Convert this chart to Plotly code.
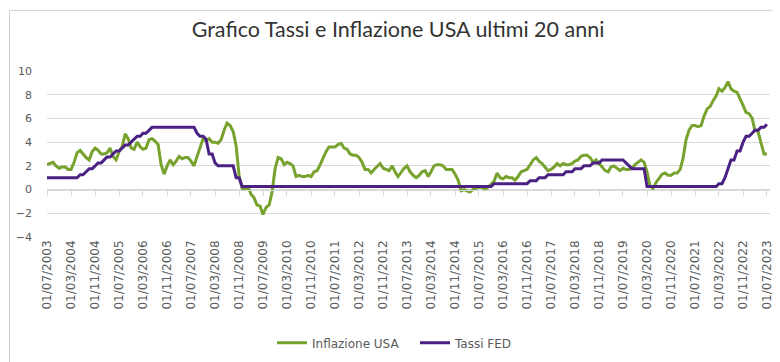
import pandas as pd
import plotly.graph_objects as go

start_month = "2003-07-01"
end_month = "2023-07-01"

inflazione_usa = [
    # 2003 Jul-Dec
    2.1, 2.2, 2.3, 2.0, 1.8, 1.9,
    # 2004
    1.9, 1.7, 1.7, 2.3, 3.1, 3.3, 3.0, 2.7, 2.5, 3.2, 3.5, 3.3,
    # 2005
    3.0, 3.0, 3.1, 3.5, 2.8, 2.5, 3.2, 3.6, 4.7, 4.3, 3.5, 3.4,
    # 2006
    4.0, 3.6, 3.4, 3.5, 4.2, 4.3, 4.1, 3.8, 2.1, 1.3, 2.0, 2.5,
    # 2007
    2.1, 2.4, 2.8, 2.6, 2.7, 2.7, 2.4, 2.0, 2.8, 3.5, 4.3, 4.1,
    # 2008
    4.3, 4.0, 4.0, 3.9, 4.2, 5.0, 5.6, 5.4, 4.9, 3.7, 1.1, 0.1,
    # 2009
    0.0, 0.2, -0.4, -0.7, -1.3, -1.4, -2.1, -1.5, -1.3, -0.2, 1.8, 2.7,
    # 2010
    2.6, 2.1, 2.3, 2.2, 2.0, 1.1, 1.2, 1.1, 1.1, 1.2, 1.1, 1.5,
    # 2011
    1.6, 2.1, 2.7, 3.2, 3.6, 3.6, 3.6, 3.8, 3.9, 3.5, 3.4, 3.0,
    # 2012
    2.9, 2.9, 2.7, 2.3, 1.7, 1.7, 1.4, 1.7, 2.0, 2.2, 1.8, 1.7,
    # 2013
    1.6, 2.0, 1.5, 1.1, 1.4, 1.8, 2.0, 1.5, 1.2, 1.0, 1.2, 1.5,
    # 2014
    1.6, 1.1, 1.5, 2.0, 2.1, 2.1, 2.0, 1.7, 1.7, 1.7, 1.3, 0.8,
    # 2015
    -0.1, 0.0, -0.1, -0.2, 0.0, 0.1, 0.2, 0.2, 0.0, 0.2, 0.5, 0.7,
    # 2016
    1.4, 1.0, 0.9, 1.1, 1.0, 1.0, 0.8, 1.1, 1.5, 1.6, 1.7, 2.1,
    # 2017
    2.5, 2.7, 2.4, 2.2, 1.9, 1.6, 1.7, 1.9, 2.2, 2.0, 2.2, 2.1,
    # 2018
    2.1, 2.2, 2.4, 2.5, 2.8, 2.9, 2.9, 2.7, 2.3, 2.5, 2.2, 1.9,
    # 2019
    1.6, 1.5, 1.9, 2.0, 1.8, 1.6, 1.8, 1.7, 1.7, 1.8, 2.1, 2.3,
    # 2020
    2.5, 2.3, 1.5, 0.3, 0.1, 0.6, 1.0, 1.3, 1.4, 1.2, 1.2, 1.4,
    # 2021
    1.4, 1.7, 2.6, 4.2, 5.0, 5.4, 5.4, 5.3, 5.4, 6.2, 6.8, 7.0,
    # 2022
    7.5, 7.9, 8.5, 8.3, 8.6, 9.1, 8.5, 8.3, 8.2, 7.7, 7.1, 6.5,
    # 2023 Jan-Jul
    6.4, 6.0, 5.0, 4.9, 4.0, 3.0, 3.0,
]

tassi_fed = [
    # 2003 Jul-Dec
    1, 1, 1, 1, 1, 1,
    # 2004
    1, 1, 1, 1, 1, 1.25, 1.25, 1.5, 1.75, 1.75, 2, 2.25,
    # 2005
    2.25, 2.5, 2.75, 2.75, 3, 3.25, 3.25, 3.5, 3.75, 3.75, 4, 4.25,
    # 2006
    4.5, 4.5, 4.75, 4.75, 5, 5.25, 5.25, 5.25, 5.25, 5.25, 5.25, 5.25,
    # 2007
    5.25, 5.25, 5.25, 5.25, 5.25, 5.25, 5.25, 5.25, 4.75, 4.5, 4.5, 4.25,
    # 2008
    3, 3, 2.25, 2, 2, 2, 2, 2, 2, 1, 1, 0.25,
    # 2009
    0.25, 0.25, 0.25, 0.25, 0.25, 0.25, 0.25, 0.25, 0.25, 0.25, 0.25, 0.25,
    # 2010
    0.25, 0.25, 0.25, 0.25, 0.25, 0.25, 0.25, 0.25, 0.25, 0.25, 0.25, 0.25,
    # 2011
    0.25, 0.25, 0.25, 0.25, 0.25, 0.25, 0.25, 0.25, 0.25, 0.25, 0.25, 0.25,
    # 2012
    0.25, 0.25, 0.25, 0.25, 0.25, 0.25, 0.25, 0.25, 0.25, 0.25, 0.25, 0.25,
    # 2013
    0.25, 0.25, 0.25, 0.25, 0.25, 0.25, 0.25, 0.25, 0.25, 0.25, 0.25, 0.25,
    # 2014
    0.25, 0.25, 0.25, 0.25, 0.25, 0.25, 0.25, 0.25, 0.25, 0.25, 0.25, 0.25,
    # 2015
    0.25, 0.25, 0.25, 0.25, 0.25, 0.25, 0.25, 0.25, 0.25, 0.25, 0.25, 0.5,
    # 2016
    0.5, 0.5, 0.5, 0.5, 0.5, 0.5, 0.5, 0.5, 0.5, 0.5, 0.5, 0.75,
    # 2017
    0.75, 0.75, 1, 1, 1, 1.25, 1.25, 1.25, 1.25, 1.25, 1.25, 1.5,
    # 2018
    1.5, 1.5, 1.75, 1.75, 1.75, 2, 2, 2, 2.25, 2.25, 2.25, 2.5,
    # 2019
    2.5, 2.5, 2.5, 2.5, 2.5, 2.5, 2.5, 2.25, 2, 1.75, 1.75, 1.75,
    # 2020
    1.75, 1.75, 0.25, 0.25, 0.25, 0.25, 0.25, 0.25, 0.25, 0.25, 0.25, 0.25,
    # 2021
    0.25, 0.25, 0.25, 0.25, 0.25, 0.25, 0.25, 0.25, 0.25, 0.25, 0.25, 0.25,
    # 2022
    0.25, 0.25, 0.5, 0.5, 1, 1.75, 2.5, 2.5, 3.25, 3.25, 4, 4.5,
    # 2023 Jan-Jul
    4.5, 4.75, 5, 5, 5.25, 5.25, 5.5,
]

y_ticks = [-4, -2, 0, 2, 4, 6, 8, 10]
tick_dates = [d.strftime("%Y-%m-%d") for d in pd.date_range(start_month, end_month, freq="8MS")]
tick_labels = [pd.Timestamp(d).strftime("%d/%m/%Y") for d in tick_dates]

dates = [d.strftime("%Y-%m-%d") for d in pd.date_range(start_month, end_month, freq="MS")]

W, H = 780, 362
ml, mr, mt, mb = 39, 18, 62.5, 132.5
plot_w = W - ml - mr
plot_h = H - mt - mb

GREEN = "#77A22D"
PURPLE = "#4B2183"
GRID = "#D9D9D9"
TXT = "#595959"


def px_x(px):
    return (px - ml) / plot_w


def px_y(py):
    return (H - mb - py) / plot_h


fig = go.Figure()
fig.add_trace(go.Scatter(x=dates, y=inflazione_usa, mode="lines", name="Inflazione USA",
                         line=dict(color=GREEN, width=3), legend="legend"))
fig.add_trace(go.Scatter(x=dates, y=tassi_fed, mode="lines", name="Tassi FED",
                         line=dict(color=PURPLE, width=3), legend="legend2"))
# invisible helper trace so the zero-line tick axis is drawn
fig.add_trace(go.Scatter(x=[dates[0]], y=[0], xaxis="x2", mode="markers",
                         marker=dict(opacity=0), showlegend=False, hoverinfo="skip"))

x_range = ["2003-07-01", "2023-08-01"]
zero_pos = 4 / 14

leg_common = dict(orientation="h", xanchor="left", yanchor="middle",
                  font=dict(family="DejaVu Sans", size=12, color=TXT),
                  itemwidth=30, bgcolor="rgba(0,0,0,0)", borderwidth=0)

fig.update_layout(
    width=W, height=H,
    margin=dict(l=ml, r=mr, t=mt, b=mb, autoexpand=False),
    paper_bgcolor="white", plot_bgcolor="white",
    title=dict(text="Grafico Tassi e Inflazione USA ultimi 20 anni",
               x=px_x(390), xref="paper", xanchor="center",
               y=1 - 21 / H, yref="container", yanchor="middle",
               font=dict(family="Lato", size=21.5, color="#333333")),
    xaxis=dict(type="date", range=x_range, tickvals=tick_dates, ticktext=tick_labels,
               automargin=False, tickangle=-90, showgrid=False, showline=False, ticks="",
               zeroline=False, tickfont=dict(family="DejaVu Sans", size=12, color=TXT)),
    xaxis2=dict(type="date", range=x_range, overlaying="x", anchor="free", position=zero_pos,
                side="bottom", tickvals=tick_dates, showticklabels=False, automargin=False,
                ticks="outside", ticklen=5, tickcolor=GRID, tickwidth=1,
                showline=True, linecolor=GRID, linewidth=1, showgrid=False, zeroline=False),
    yaxis=dict(range=[-4, 10], tickvals=y_ticks, showgrid=True, gridcolor=GRID, gridwidth=1,
               automargin=False,
               zeroline=False, showline=False, ticks="", ticklabelstandoff=14,
               tickfont=dict(family="DejaVu Sans", size=11, color=TXT)),
    legend=dict(x=px_x(264), y=px_y(336), **leg_common),
    legend2=dict(x=px_x(407), y=px_y(336), **leg_common),
    showlegend=True,
)

# outer chart frame
fig.add_shape(type="rect", xref="paper", yref="paper",
              x0=px_x(1.5), x1=px_x(W - 2.5),
              y0=px_y(H - 2.5), y1=px_y(1.5),
              line=dict(color="#CFCFCF", width=1), fillcolor="rgba(0,0,0,0)", layer="above")

fig.write_html("out.html")
